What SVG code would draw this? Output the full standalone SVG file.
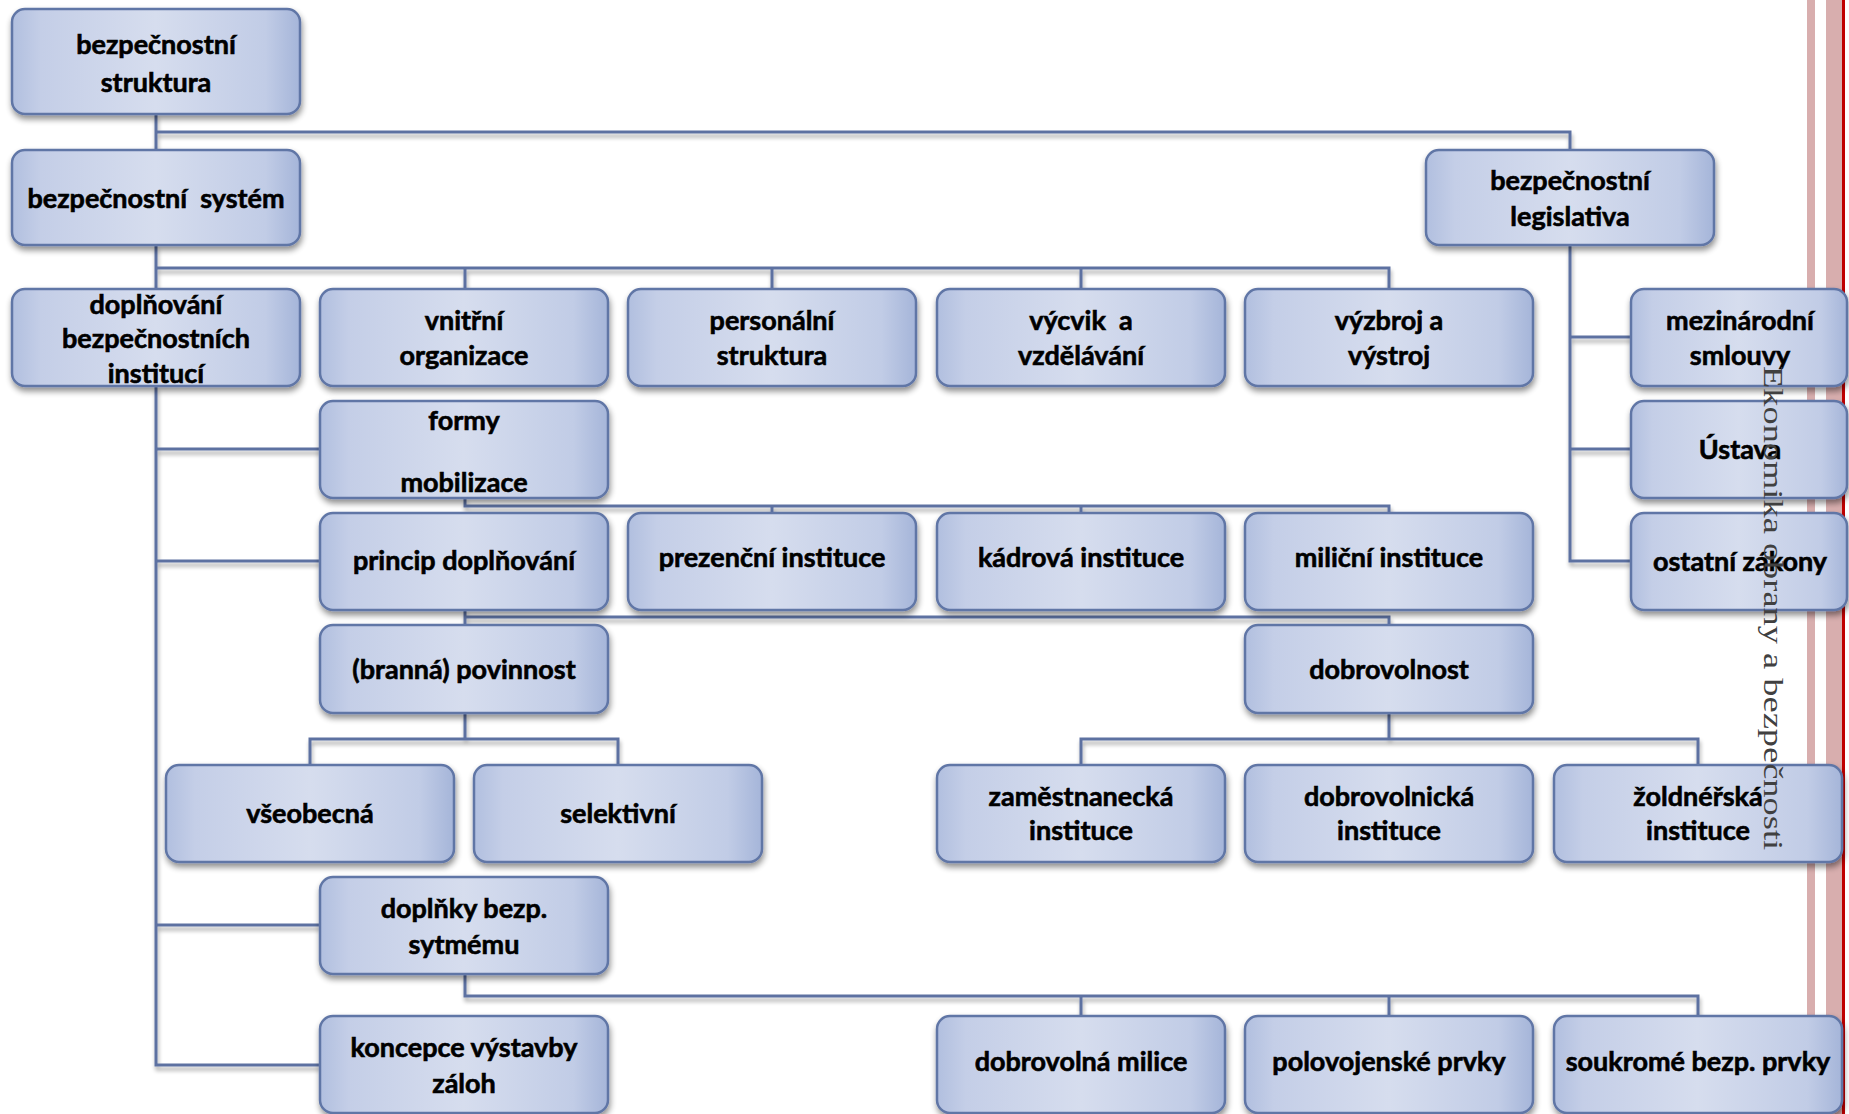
<svg xmlns="http://www.w3.org/2000/svg" width="1849" height="1114" viewBox="0 0 1849 1114">
<defs>
<linearGradient id="boxfill" x1="0" y1="0" x2="1" y2="0">
<stop offset="0" stop-color="#b1bfdf"/>
<stop offset="0.1" stop-color="#c4cee7"/>
<stop offset="0.5" stop-color="#d6ddee"/>
<stop offset="0.88" stop-color="#c1cce6"/>
<stop offset="1" stop-color="#a5b5d9"/>
</linearGradient>
<filter id="shadow" x="-10%" y="-10%" width="120%" height="130%">
<feGaussianBlur in="SourceAlpha" stdDeviation="3"/>
<feOffset dx="1" dy="4" result="b"/>
<feComponentTransfer><feFuncA type="linear" slope="0.45"/></feComponentTransfer>
<feMerge><feMergeNode/><feMergeNode in="SourceGraphic"/></feMerge>
</filter>
<filter id="lshadow" x="-5%" y="-50%" width="110%" height="300%">
<feGaussianBlur in="SourceAlpha" stdDeviation="2"/>
<feOffset dx="1" dy="4" result="b"/>
<feComponentTransfer><feFuncA type="linear" slope="0.35"/></feComponentTransfer>
<feMerge><feMergeNode/><feMergeNode in="SourceGraphic"/></feMerge>
</filter>
</defs>
<style>
.box{fill:url(#boxfill);stroke:#6176a6;stroke-width:2.5;filter:url(#shadow)}
.t{font-family:Lato,"Open Sans","Liberation Sans",sans-serif;font-weight:bold;font-size:27px;fill:#000;stroke:#000;stroke-width:0.6;text-anchor:middle;white-space:pre}
.c{fill:none;stroke:#5d71a1;stroke-width:3}
.side{font-family:"Liberation Serif","DejaVu Serif",serif;font-size:28px;fill:#404040}
</style>
<rect width="1849" height="1114" fill="#fff"/>
<g id="frame">
<rect x="1807" y="0" width="8" height="1114" fill="#d8aeae"/>
<rect x="1826" y="0" width="16" height="1114" fill="#d8aeae"/>
<rect x="1842" y="0" width="3" height="1114" fill="#c00000"/>
<rect x="1685" y="1107" width="113" height="7" fill="#a31515"/>
</g>
<g id="connectors" filter="url(#lshadow)">
<path class="c" d="M156,114V150M156,132H1570V150"/>
<path class="c" d="M156,245V289M156,268H1389V289M465,268V289M772,268V289M1081,268V289"/>
<path class="c" d="M1570,245V561H1631M1570,337H1631M1570,449H1631"/>
<path class="c" d="M156,386V1065H320M156,449H320M156,561H320M156,925H320"/>
<path class="c" d="M465,498V506H1389V513M772,506V513M1081,506V513"/>
<path class="c" d="M465,610V625M465,617H1389V625"/>
<path class="c" d="M465,713V739M310,765V739H618V765"/>
<path class="c" d="M1389,713V739M1081,765V739H1698V765"/>
<path class="c" d="M465,974V996H1698V1016M1081,996V1016M1389,996V1016"/>
</g>
<g id="n1"><rect class="box" x="12" y="9" width="288" height="105" rx="13"/><text class="t" x="156" y="54">bezpečnostní</text><text class="t" x="156" y="92">struktura</text></g>
<g id="n2"><rect class="box" x="12" y="150" width="288" height="95" rx="13"/><text class="t" x="156" y="208">bezpečnostní  systém</text></g>
<g id="n3"><rect class="box" x="1426" y="150" width="288" height="95" rx="13"/><text class="t" x="1570" y="190">bezpečnostní</text><text class="t" x="1570" y="226">legislativa</text></g>
<g id="n4"><rect class="box" x="12" y="289" width="288" height="97" rx="13"/><text class="t" x="156" y="314">doplňování</text><text class="t" x="156" y="348">bezpečnostních</text><text class="t" x="156" y="383">institucí</text></g>
<g id="n5"><rect class="box" x="320" y="289" width="288" height="97" rx="13"/><text class="t" x="464" y="330">vnitřní</text><text class="t" x="464" y="365">organizace</text></g>
<g id="n6"><rect class="box" x="628" y="289" width="288" height="97" rx="13"/><text class="t" x="772" y="330">personální</text><text class="t" x="772" y="365">struktura</text></g>
<g id="n7"><rect class="box" x="937" y="289" width="288" height="97" rx="13"/><text class="t" x="1081" y="330">výcvik  a</text><text class="t" x="1081" y="365">vzdělávání</text></g>
<g id="n8"><rect class="box" x="1245" y="289" width="288" height="97" rx="13"/><text class="t" x="1389" y="330">výzbroj a</text><text class="t" x="1389" y="365">výstroj</text></g>
<g id="n9"><rect class="box" x="1631" y="289" width="216" height="97" rx="13"/><text class="t" x="1740" y="330">mezinárodní</text><text class="t" x="1740" y="365">smlouvy</text></g>
<g id="n10"><rect class="box" x="320" y="401" width="288" height="97" rx="13"/><text class="t" x="464" y="430">formy</text><text class="t" x="464" y="492">mobilizace</text></g>
<g id="n11"><rect class="box" x="1631" y="401" width="216" height="97" rx="13"/><text class="t" x="1740" y="459">Ústava</text></g>
<g id="n12"><rect class="box" x="320" y="513" width="288" height="97" rx="13"/><text class="t" x="464" y="570">princip doplňování</text></g>
<g id="n13"><rect class="box" x="628" y="513" width="288" height="97" rx="13"/><text class="t" x="772" y="567">prezenční instituce</text></g>
<g id="n14"><rect class="box" x="937" y="513" width="288" height="97" rx="13"/><text class="t" x="1081" y="567">kádrová instituce</text></g>
<g id="n15"><rect class="box" x="1245" y="513" width="288" height="97" rx="13"/><text class="t" x="1389" y="567">miliční instituce</text></g>
<g id="n16"><rect class="box" x="1631" y="513" width="216" height="97" rx="13"/><text class="t" x="1740" y="571">ostatní zákony</text></g>
<g id="n17"><rect class="box" x="320" y="625" width="288" height="88" rx="13"/><text class="t" x="464" y="679">(branná) povinnost</text></g>
<g id="n18"><rect class="box" x="1245" y="625" width="288" height="88" rx="13"/><text class="t" x="1389" y="679">dobrovolnost</text></g>
<g id="n19"><rect class="box" x="166" y="765" width="288" height="97" rx="13"/><text class="t" x="310" y="823">všeobecná</text></g>
<g id="n20"><rect class="box" x="474" y="765" width="288" height="97" rx="13"/><text class="t" x="618" y="823">selektivní</text></g>
<g id="n21"><rect class="box" x="937" y="765" width="288" height="97" rx="13"/><text class="t" x="1081" y="806">zaměstnanecká</text><text class="t" x="1081" y="840">instituce</text></g>
<g id="n22"><rect class="box" x="1245" y="765" width="288" height="97" rx="13"/><text class="t" x="1389" y="806">dobrovolnická</text><text class="t" x="1389" y="840">instituce</text></g>
<g id="n23"><rect class="box" x="1554" y="765" width="288" height="97" rx="13"/><text class="t" x="1698" y="806">žoldnéřská</text><text class="t" x="1698" y="840">instituce</text></g>
<g id="n24"><rect class="box" x="320" y="877" width="288" height="97" rx="13"/><text class="t" x="464" y="918">doplňky bezp.</text><text class="t" x="464" y="954">sytmému</text></g>
<g id="n25"><rect class="box" x="320" y="1016" width="288" height="97" rx="13"/><text class="t" x="464" y="1057">koncepce výstavby</text><text class="t" x="464" y="1093">záloh</text></g>
<g id="n26"><rect class="box" x="937" y="1016" width="288" height="97" rx="13"/><text class="t" x="1081" y="1071">dobrovolná milice</text></g>
<g id="n27"><rect class="box" x="1245" y="1016" width="288" height="97" rx="13"/><text class="t" x="1389" y="1071">polovojenské prvky</text></g>
<g id="n28"><rect class="box" x="1554" y="1016" width="288" height="97" rx="13"/><text class="t" x="1698" y="1071">soukromé bezp. prvky</text></g>
<text class="side" transform="translate(1764,366) rotate(90) scale(1.3,1)">Ekonomika obrany a bezpečnosti</text>
</svg>
